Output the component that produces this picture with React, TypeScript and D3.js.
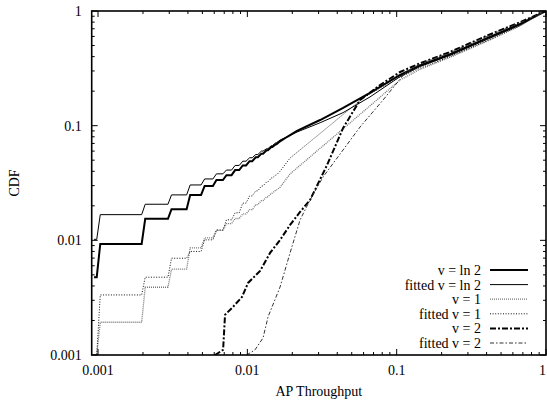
import React from "react";
import * as d3 from "d3";

// ---- data ----
const stepX = [0.001, 0.002, 0.003, 0.004, 0.005, 0.006, 0.007, 0.008, 0.009, 0.010, 0.011, 0.012, 0.013, 0.014, 0.015, 0.016];

const lnStart: [number, number] = [0.00094, 0.00477];
const lnLevels = [0.0093, 0.0154, 0.0187, 0.0249, 0.0298, 0.0336, 0.037, 0.041, 0.045, 0.049, 0.053, 0.057, 0.061, 0.065, 0.069, 0.073];
const lnTail: [number, number][] = [[0.0185, 0.08], [0.0215, 0.09], [0.0307, 0.112], [0.0438, 0.1427], [0.0663, 0.1928], [0.1054, 0.2767], [0.1434, 0.335], [0.2279, 0.42], [0.4032, 0.58], [0.6706, 0.77], [1, 1]];

const fitLnStart: [number, number] = [0.00094, 0.0102];
const fitLnLevels = [0.01675, 0.02064, 0.0249, 0.0304, 0.0343, 0.038, 0.041, 0.045, 0.049, 0.0525, 0.056, 0.06, 0.063, 0.067, 0.071, 0.075];
const fitLnTail: [number, number][] = [[0.0185, 0.08], [0.0215, 0.088], [0.0307, 0.106], [0.0438, 0.13], [0.0663, 0.178], [0.1054, 0.268], [0.1434, 0.328], [0.2279, 0.41], [0.4032, 0.565], [0.6706, 0.755], [1, 1]];

const v1Start: [number, number] = [0.00097, 0.001];
const v1Levels = [0.00193, 0.0039, 0.0056, 0.0086, 0.0105, 0.0122, 0.014, 0.0155, 0.017, 0.0185, 0.0205, 0.0222, 0.024, 0.0258, 0.0275, 0.029];
const v1Tail: [number, number][] = [[0.0193, 0.0379], [0.0307, 0.0634], [0.0438, 0.094], [0.0596, 0.1324], [0.0774, 0.1772], [0.1054, 0.2503], [0.1434, 0.31], [0.2279, 0.395], [0.4032, 0.545], [0.6706, 0.74], [1, 1]];

const fitV1Start: [number, number] = [0.00095, 0.001];
const fitV1Levels = [0.00334, 0.00477, 0.00698, 0.008, 0.0101, 0.0123, 0.0151, 0.0174, 0.0211, 0.0244, 0.027, 0.0298, 0.0323, 0.035, 0.0372, 0.04];
const fitV1Tail: [number, number][] = [[0.0193, 0.0521], [0.0307, 0.0855], [0.0438, 0.1252], [0.0596, 0.1744], [0.0774, 0.2132], [0.1054, 0.2659], [0.1434, 0.318], [0.2279, 0.4], [0.4032, 0.55], [0.6706, 0.745], [1, 1]];

const v2Points: [number, number][] = [[0.00608, 0.001], [0.00688, 0.00111], [0.00709, 0.00224], [0.00802, 0.00263], [0.00921, 0.00321], [0.01011, 0.00425], [0.01217, 0.00541], [0.01419, 0.00777], [0.01656, 0.01008], [0.01932, 0.01362], [0.02254, 0.01769], [0.0263, 0.0225], [0.0342, 0.0454], [0.0438, 0.0955], [0.0569, 0.1675], [0.0774, 0.2263], [0.1054, 0.2938], [0.1434, 0.35], [0.2279, 0.44], [0.4032, 0.61], [0.6706, 0.8], [1, 1]];

const fitV2Points: [number, number][] = [[0.0099, 0.001], [0.01126, 0.00111], [0.01274, 0.00141], [0.01376, 0.00215], [0.01656, 0.00392], [0.01932, 0.00777], [0.02254, 0.01506], [0.0263, 0.0225], [0.03214, 0.0357], [0.04375, 0.0614], [0.05686, 0.0974], [0.08107, 0.1675], [0.1138, 0.288], [0.1434, 0.345], [0.2279, 0.433], [0.4032, 0.6], [0.6706, 0.79], [1, 1]];

const yTickValues = [0.001, 0.01, 0.1, 1];
const yTickLabels = ["0.001", "0.01", "0.1", "1"];
const xTickValues = [0.001, 0.01, 0.1, 1];
const xTickLabels = ["0.001", "0.01", "0.1", "1"];

const legendLabels = ["v = ln 2", "fitted v = ln 2", "v = 1", "fitted v = 1", "v = 2", "fitted v = 2"];

// ---- layout ----
const W = 547, H = 402;
const L = 91.7, R = 546, T = 11, B = 355;
const TF = { fontFamily: "Liberation Serif" };

function stairs(start: [number, number], levels: number[], tail: [number, number][]): [number, number][] {
  const pts: [number, number][] = [start];
  let prev = start[1];
  stepX.forEach((s, i) => {
    pts.push([s * 0.98, prev]);
    pts.push([s * 1.035, levels[i]]);
    prev = levels[i];
  });
  return pts.concat(tail);
}

const styles = [
  { stroke: "#000", width: 2, dash: "" },
  { stroke: "#000", width: 1, dash: "" },
  { stroke: "#777", width: 1.3, dash: "1,1" },
  { stroke: "#111", width: 1, dash: "1,1.6" },
  { stroke: "#000", width: 2, dash: "6,2,2,2" },
  { stroke: "#333", width: 1, dash: "4,2,1.5,2" },
];

export default function App() {
  const x = d3.scaleLog().domain([0.000907, 1]).range([L, R]);
  const y = d3.scaleLog().domain([0.001, 1]).range([B, T]);
  const line = d3.line<[number, number]>().x(d => x(d[0])).y(d => y(d[1]));

  const series: [number, number][][] = [
    stairs(lnStart, lnLevels, lnTail),
    stairs(fitLnStart, fitLnLevels, fitLnTail),
    stairs(v1Start, v1Levels, v1Tail),
    stairs(fitV1Start, fitV1Levels, fitV1Tail),
    v2Points,
    fitV2Points,
  ];

  const minor: number[] = [];
  [0.001, 0.01, 0.1].forEach(d => { for (let k = 2; k <= 9; k++) minor.push(d * k); });
  const xMinor = minor.filter(v => x(v) > L && x(v) < R);
  const xMajor = xTickValues.filter(v => x(v) >= L);

  return (
    <div style={{ position: "absolute", left: 0, top: 0 }}>
      <svg width={W} height={H} style={{ display: "block" }}>
        <rect x={0} y={0} width={W} height={H} fill="#fff" />
        <defs>
          <clipPath id="plot">
            <rect x={L} y={T} width={R - L} height={B - T} />
          </clipPath>
        </defs>
        <g clipPath="url(#plot)">
          {series.map((s, i) => (
            <path key={i} d={line(s) || ""} fill="none" stroke={styles[i].stroke}
              strokeWidth={styles[i].width} strokeDasharray={styles[i].dash || undefined}
              strokeLinejoin="miter" />
          ))}
        </g>
        {/* ticks */}
        <g stroke="#000" strokeWidth={1}>
          {yTickValues.map(v => (
            <g key={"ym" + v}>
              <line x1={L} x2={L + 6} y1={y(v)} y2={y(v)} />
              <line x1={R} x2={R - 6} y1={y(v)} y2={y(v)} />
            </g>
          ))}
          {minor.map(v => (
            <g key={"yn" + v}>
              <line x1={L} x2={L + 3} y1={y(v)} y2={y(v)} />
              <line x1={R} x2={R - 3} y1={y(v)} y2={y(v)} />
            </g>
          ))}
          {xMajor.map(v => (
            <g key={"xm" + v}>
              <line x1={x(v)} x2={x(v)} y1={B} y2={B - 6} />
              <line x1={x(v)} x2={x(v)} y1={T} y2={T + 6} />
            </g>
          ))}
          {xMinor.map(v => (
            <g key={"xn" + v}>
              <line x1={x(v)} x2={x(v)} y1={B} y2={B - 3} />
              <line x1={x(v)} x2={x(v)} y1={T} y2={T + 3} />
            </g>
          ))}
        </g>
        <rect x={L} y={T} width={R - L} height={B - T} fill="none" stroke="#000" strokeWidth={1.6} />
        {/* tick labels */}
        <g fontSize={14} fill="#000">
          {yTickValues.map((v, i) => (
            <text key={"yl" + v} style={TF} x={L - 10} y={y(v)} dy="0.35em" textAnchor="end">{yTickLabels[i]}</text>
          ))}
          {xTickValues.map((v, i) => (
            <text key={"xl" + v} style={TF} x={i === xTickValues.length - 1 ? W - 1 : x(v)} y={B + 20}
              textAnchor={i === xTickValues.length - 1 ? "end" : "middle"}>{xTickLabels[i]}</text>
          ))}
          <text style={TF} x={(L + R) / 2} y={B + 41} textAnchor="middle">AP Throughput</text>
          <text style={TF} transform={`translate(19,${(T + B) / 2}) rotate(-90)`} textAnchor="middle">CDF</text>
        </g>
        {/* legend */}
        <g fontSize={14}>
          {legendLabels.map((lab, i) => {
            const ly = 270 + i * 14.6;
            return (
              <g key={lab}>
                <text style={TF} x={481} y={ly} dy="0.35em" textAnchor="end">{lab}</text>
                <line x1={490} x2={528} y1={ly} y2={ly} stroke={styles[i].stroke}
                  strokeWidth={styles[i].width} strokeDasharray={styles[i].dash || undefined} />
              </g>
            );
          })}
        </g>
      </svg>
    </div>
  );
}
